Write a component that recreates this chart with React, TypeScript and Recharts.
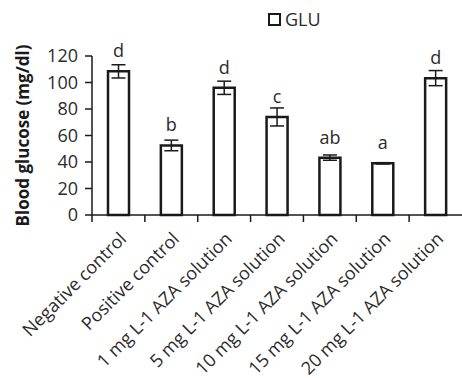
import React from "react";
import {
  BarChart,
  Bar,
  XAxis,
  YAxis,
  ErrorBar,
  LabelList,
  Legend,
} from "recharts";

const groups = [
  "Negative control",
  "Positive control",
  "1 mg L-1 AZA solution",
  "5 mg L-1 AZA solution",
  "10 mg L-1 AZA solution",
  "15 mg L-1 AZA solution",
  "20 mg L-1 AZA solution",
];
const glu = [108.4, 52.5, 96, 74, 43.3, 39, 103.3];
const gluErr = [5, 4, 5, 6.8, 2, 0.5, 5.7];
const letters = ["d", "b", "d", "c", "ab", "a", "d"];
const yTicks = [0, 20, 40, 60, 80, 100, 120];

const data = groups.map((g, i) => ({
  group: g,
  glu: glu[i],
  err: gluErr[i],
  letter: letters[i],
}));

const FONT = "'Open Sans', sans-serif";
const INK = "#1a1a1a";
const TEXT = "#2b2b2b";

function XTick(props: any) {
  const { x, y, payload } = props;
  const half = payload?.offset ?? 26.5;
  const ax = x + 9;
  const ay = y + 25;
  return (
    <g>
      <line x1={x - half} y1={y} x2={x - half} y2={y + 7} stroke={INK} strokeWidth={1.5} />
      <text
        x={ax}
        y={ay}
        textAnchor="end"
        transform={`rotate(-45 ${ax} ${ay})`}
        fontSize={18}
        fill={TEXT}
        fontFamily={FONT}
      >
        {payload.value}
      </text>
    </g>
  );
}

function GluLegend() {
  return (
    <div style={{ display: "flex", alignItems: "center", fontFamily: FONT }}>
      <span
        style={{
          width: 9,
          height: 9,
          border: `2.5px solid ${INK}`,
          background: "#fff",
          display: "inline-block",
          marginRight: 4,
        }}
      />
      <span style={{ fontSize: 18, color: TEXT }}>GLU</span>
    </div>
  );
}

export default function App() {
  return (
    <div style={{ width: 462, height: 378, background: "#fff" }}>
      <style>{"body{margin:0}"}</style>
      <BarChart
        width={462}
        height={378}
        data={data}
        margin={{ top: 32, right: 0, left: 0, bottom: 13 }}
      >
        <Legend
          verticalAlign="top"
          content={<GluLegend />}
          wrapperStyle={{ top: 7, left: 268, width: 90 }}
        />
        <XAxis
          dataKey="group"
          interval={0}
          height={150}
          tickSize={0}
          tickMargin={0}
          tickLine={false}
          axisLine={{ stroke: INK, strokeWidth: 1.5 }}
          tick={<XTick />}
        />
        <YAxis
          width={92}
          domain={[0, 120]}
          ticks={yTicks}
          interval={0}
          tickSize={7}
          tickMargin={7}
          axisLine={{ stroke: INK, strokeWidth: 1.5 }}
          tickLine={{ stroke: INK, strokeWidth: 1.5 }}
          tick={{ fontSize: 18, fill: TEXT, fontFamily: FONT }}
          label={({ viewBox }: any) => {
            const cx = viewBox.x + 22;
            const cy = viewBox.y + viewBox.height / 2;
            return (
              <text
                x={cx}
                y={cy}
                textAnchor="middle"
                dominantBaseline="central"
                transform={`rotate(-90 ${cx} ${cy})`}
                fontSize={17}
                fontWeight="bold"
                fill={INK}
                fontFamily={FONT}
              >
                Blood glucose (mg/dl)
              </text>
            );
          }}
        />
        <Bar
          dataKey="glu"
          barSize={21}
          fill="#fff"
          stroke={INK}
          strokeWidth={2.5}
          isAnimationActive={false}
        >
          <ErrorBar dataKey="err" width={7} stroke={INK} strokeWidth={1.5} direction="y" />
          <LabelList
            dataKey="letter"
            position="top"
            offset={14}
            fontSize={18}
            fill={TEXT}
            fontFamily={FONT}
          />
        </Bar>
      </BarChart>
    </div>
  );
}
